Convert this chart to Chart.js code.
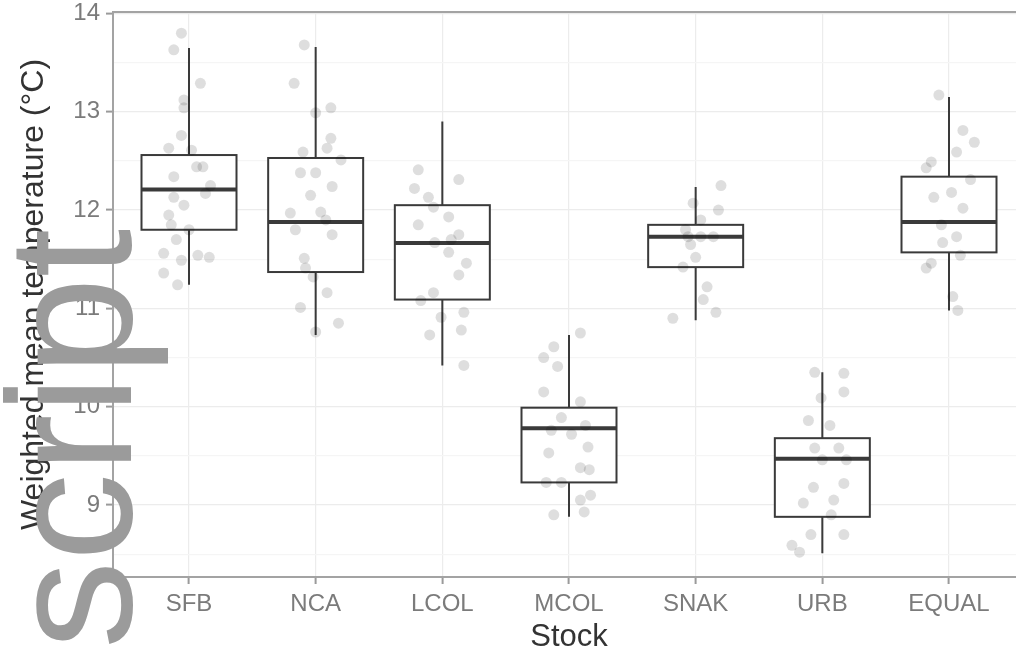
<!DOCTYPE html>
<html>
<head>
<meta charset="utf-8">
<script src="https://cdn.jsdelivr.net/npm/chart.js@4.4.1/dist/chart.umd.min.js"></script>
<style>
  html, body { margin: 0; padding: 0; background: #ffffff; overflow: hidden; width: 1016px; height: 662px; }
  #wrap { position: absolute; left: 0; top: 0; width: 1040px; height: 662px; }
</style>
</head>
<body>
<div id="wrap"><canvas id="chart" width="1040" height="662"></canvas></div>
<script>
// Stocks on the x axis
const stocks = ['SFB', 'NCA', 'LCOL', 'MCOL', 'SNAK', 'URB', 'EQUAL'];

// Box-plot summaries per stock (°C)
const whiskerLow  = [11.24, 10.73, 10.42,  8.88, 10.88,  8.51, 10.98];
const quartile1   = [11.80, 11.37, 11.09,  9.23, 11.42,  8.88, 11.57];
const medians     = [12.21, 11.88, 11.665, 9.78, 11.73,  9.47, 11.88];
const quartile3   = [12.56, 12.53, 12.05,  9.99, 11.85,  9.68, 12.34];
const whiskerHigh = [13.65, 13.66, 12.90, 10.73, 12.235, 10.35, 13.15];

// Yearly weighted mean temperatures per stock, with horizontal jitter (category units)
const sfbTemp   = [13.80, 13.63, 13.29, 13.12, 13.04, 12.76, 12.63, 12.61, 12.44, 12.44, 12.34, 12.25, 12.17, 12.13, 12.05, 11.95, 11.85, 11.80, 11.70, 11.56, 11.54, 11.52, 11.49, 11.36, 11.24];
const sfbJitter = [-0.06, -0.12, 0.09, -0.04, -0.04, -0.06, -0.16, 0.02, 0.06, 0.11, -0.12, 0.17, 0.13, -0.12, -0.04, -0.16, -0.14, 0.00, -0.10, -0.20, 0.07, 0.16, -0.06, -0.20, -0.09];

const ncaTemp   = [13.68, 13.29, 13.04, 12.99, 12.73, 12.63, 12.59, 12.51, 12.38, 12.38, 12.24, 12.15, 11.98, 11.97, 11.90, 11.80, 11.75, 11.51, 11.41, 11.32, 11.16, 11.01, 10.85, 10.76];
const ncaJitter = [-0.09, -0.17, 0.12, 0.00, 0.12, 0.09, -0.10, 0.20, -0.12, 0.00, 0.13, -0.04, 0.04, -0.20, 0.08, -0.16, 0.13, -0.09, -0.08, -0.02, 0.09, -0.12, 0.18, 0.00];

const lcolTemp   = [12.41, 12.31, 12.22, 12.13, 12.03, 11.93, 11.85, 11.75, 11.70, 11.67, 11.57, 11.46, 11.34, 11.16, 11.08, 10.96, 10.91, 10.78, 10.73, 10.42];
const lcolJitter = [-0.19, 0.13, -0.22, -0.11, -0.07, 0.05, -0.19, 0.13, 0.07, -0.06, 0.05, 0.19, 0.13, -0.07, -0.17, 0.17, -0.01, 0.15, -0.10, 0.17];

const mcolTemp   = [10.75, 10.61, 10.50, 10.41, 10.15, 10.05, 9.89, 9.81, 9.76, 9.72, 9.59, 9.53, 9.38, 9.36, 9.23, 9.23, 9.10, 9.05, 8.93, 8.90];
const mcolJitter = [0.09, -0.12, -0.20, -0.09, -0.20, 0.09, -0.06, 0.13, -0.14, 0.02, 0.15, -0.16, 0.09, 0.16, -0.06, -0.18, 0.17, 0.09, 0.12, -0.12];

const snakTemp   = [12.25, 12.07, 12.00, 11.90, 11.80, 11.73, 11.73, 11.73, 11.65, 11.52, 11.42, 11.22, 11.09, 10.96, 10.90];
const snakJitter = [0.20, -0.02, 0.18, 0.04, -0.08, -0.06, 0.04, 0.14, -0.04, 0.00, -0.10, 0.09, 0.06, 0.16, -0.18];

const urbTemp   = [10.35, 10.34, 10.15, 10.09, 9.86, 9.81, 9.58, 9.58, 9.46, 9.46, 9.22, 9.18, 9.05, 9.02, 8.90, 8.70, 8.70, 8.59, 8.52];
const urbJitter = [-0.06, 0.17, 0.17, -0.01, -0.11, 0.06, -0.06, 0.13, 0.00, 0.19, 0.17, -0.07, 0.09, -0.15, 0.07, -0.09, 0.17, -0.24, -0.18];

const equalTemp   = [13.17, 12.81, 12.69, 12.59, 12.49, 12.43, 12.31, 12.18, 12.13, 12.02, 11.85, 11.73, 11.67, 11.54, 11.46, 11.41, 11.12, 10.98];
const equalJitter = [-0.08, 0.11, 0.20, 0.06, -0.14, -0.18, 0.17, 0.02, -0.12, 0.11, -0.06, 0.06, -0.05, 0.09, -0.14, -0.18, 0.03, 0.07];

// Y axis tick values: labelled whole degrees, unlabelled half degrees for minor grid
const yTicks = [8.5, 9, 9.5, 10, 10.5, 11, 11.5, 12, 12.5, 13, 13.5, 14];

const tempsByStock  = [sfbTemp, ncaTemp, lcolTemp, mcolTemp, snakTemp, urbTemp, equalTemp];
const jitterByStock = [sfbJitter, ncaJitter, lcolJitter, mcolJitter, snakJitter, urbJitter, equalJitter];

const jitterPoints = [];
tempsByStock.forEach((temps, i) => {
  temps.forEach((t, k) => jitterPoints.push({ x: i + jitterByStock[i][k], y: t }));
});

const FONT = "'Liberation Sans', Arial, Helvetica, sans-serif";
const isWhole = v => Math.abs(v - Math.round(v)) < 1e-9;

// Boxes and whiskers, drawn beneath the jittered points
const boxPlotPlugin = {
  id: 'boxPlot',
  beforeDatasetsDraw(chart) {
    const { ctx, scales: { x, y } } = chart;
    ctx.save();
    ctx.strokeStyle = '#3a3a3a';
    stocks.forEach((s, i) => {
      const cx = x.getPixelForValue(i);
      const left = x.getPixelForValue(i - 0.375);
      const right = x.getPixelForValue(i + 0.375);
      const yLo = y.getPixelForValue(whiskerLow[i]);
      const yQ1 = y.getPixelForValue(quartile1[i]);
      const yMed = y.getPixelForValue(medians[i]);
      const yQ3 = y.getPixelForValue(quartile3[i]);
      const yHi = y.getPixelForValue(whiskerHigh[i]);
      ctx.lineWidth = 2;
      ctx.beginPath();
      ctx.moveTo(cx, yHi); ctx.lineTo(cx, yQ3);
      ctx.moveTo(cx, yQ1); ctx.lineTo(cx, yLo);
      ctx.stroke();
      ctx.fillStyle = '#ffffff';
      ctx.fillRect(left, yQ3, right - left, yQ1 - yQ3);
      ctx.strokeRect(left, yQ3, right - left, yQ1 - yQ3);
      ctx.lineWidth = 4;
      ctx.beginPath();
      ctx.moveTo(left, yMed); ctx.lineTo(right, yMed);
      ctx.stroke();
    });
    ctx.restore();
  }
};

// Top edge of the panel border
const panelBorderPlugin = {
  id: 'panelBorder',
  beforeDatasetsDraw(chart) {
    const { ctx, chartArea } = chart;
    ctx.save();
    ctx.strokeStyle = '#a3a3a3';
    ctx.lineWidth = 2;
    ctx.beginPath();
    ctx.moveTo(chartArea.left, chartArea.top);
    ctx.lineTo(chartArea.right, chartArea.top);
    ctx.stroke();
    ctx.restore();
  }
};

// Large grey word laid over the left side
const overlayWordPlugin = {
  id: 'overlayWord',
  afterDraw(chart) {
    const { ctx } = chart;
    ctx.save();
    ctx.translate(131, 649);
    ctx.rotate(-Math.PI / 2);
    ctx.font = '176px ' + FONT;
    ctx.fillStyle = '#9b9b9b';
    ctx.textBaseline = 'alphabetic';
    ctx.textAlign = 'left';
    ctx.fillText('script', 0, 0);
    ctx.restore();
  }
};

new Chart(document.getElementById('chart'), {
  type: 'scatter',
  data: {
    datasets: [{
      data: jitterPoints,
      pointRadius: 5.5,
      pointHoverRadius: 5.5,
      pointBackgroundColor: 'rgba(0,0,0,0.13)',
      pointBorderWidth: 0
    }]
  },
  options: {
    responsive: false,
    animation: false,
    devicePixelRatio: 1,
    layout: { padding: { left: 0, top: 12, right: 15, bottom: 0 } },
    plugins: { legend: { display: false }, tooltip: { enabled: false } },
    scales: {
      x: {
        type: 'linear',
        min: -0.6,
        max: 6.6,
        afterBuildTicks: scale => { scale.ticks = stocks.map((s, i) => ({ value: i })); },
        afterFit: scale => { scale.height = 85; scale.paddingLeft = 0; scale.paddingRight = 0; },
        ticks: {
          autoSkip: false,
          maxRotation: 0,
          padding: 6,
          color: '#7b7b7b',
          font: { family: FONT, size: 24 },
          callback: v => stocks[Math.round(v)]
        },
        grid: { color: '#ececec', lineWidth: 1.2, tickLength: 7, tickColor: '#9a9a9a', tickWidth: 2 },
        border: { color: '#a3a3a3', width: 2 },
        title: { display: true, text: 'Stock', color: '#333333', font: { family: FONT, size: 31 }, padding: { top: 0, bottom: 6 } }
      },
      y: {
        min: 8.268,
        max: 14.015,
        afterBuildTicks: scale => { scale.ticks = yTicks.map(v => ({ value: v })); },
        afterFit: scale => { scale.width = 113; scale.paddingTop = 0; scale.paddingBottom = 0; },
        ticks: {
          autoSkip: false,
          padding: 6,
          color: '#7b7b7b',
          font: { family: FONT, size: 24 },
          callback: v => (isWhole(v) ? String(v) : '')
        },
        grid: {
          color: c => (c.tick && !isWhole(c.tick.value) ? '#f5f5f5' : '#ececec'),
          lineWidth: 1.2,
          tickLength: 7,
          tickWidth: 2,
          tickColor: c => (c.tick && !isWhole(c.tick.value) ? 'rgba(0,0,0,0)' : '#9a9a9a')
        },
        border: { color: '#a3a3a3', width: 2 },
        title: { display: true, text: 'Weighted mean temperature (°C)', color: '#333333', font: { family: FONT, size: 32 }, padding: { top: 15, bottom: 0 } }
      }
    }
  },
  plugins: [panelBorderPlugin, boxPlotPlugin, overlayWordPlugin]
});
</script>
</body>
</html>
